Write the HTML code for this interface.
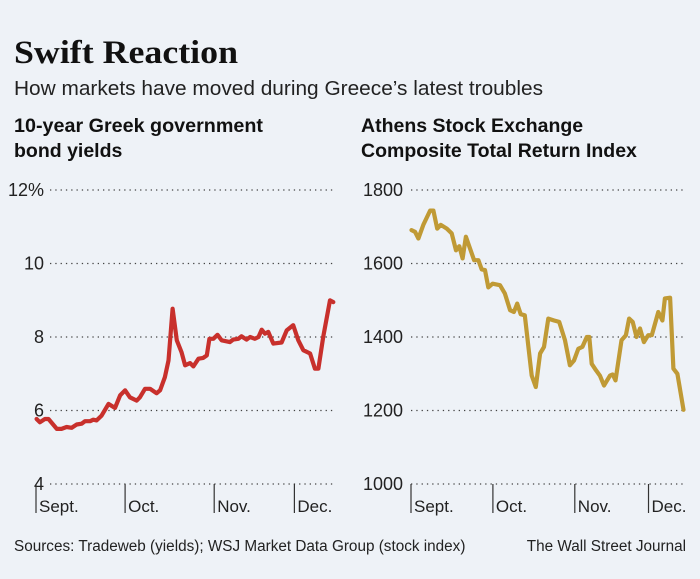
<!DOCTYPE html>
<html><head><meta charset="utf-8"><style>
body{margin:0;background:#eef2f7;}
svg{display:block;font-family:"Liberation Sans",sans-serif;}
</style></head><body>
<svg width="700" height="579" viewBox="0 0 700 579">
<rect width="700" height="579" fill="#eef2f7"/>
<text x="14" y="63" font-family="Liberation Serif,serif" font-weight="bold" font-size="33" textLength="224" lengthAdjust="spacingAndGlyphs" fill="#111">Swift Reaction</text>
<text x="14" y="95" font-size="20.5" textLength="529" lengthAdjust="spacingAndGlyphs" fill="#222">How markets have moved during Greece’s latest troubles</text>
<text x="14" y="132" font-size="19.5" textLength="249" lengthAdjust="spacingAndGlyphs" font-weight="bold" fill="#111">10-year Greek government</text>
<text x="14" y="157" font-size="19.5" font-weight="bold" fill="#111">bond yields</text>
<text x="361" y="132" font-size="19.5" font-weight="bold" fill="#111">Athens Stock Exchange</text>
<text x="361" y="157" font-size="19.5" font-weight="bold" fill="#111">Composite Total Return Index</text>
<g id="left"></g>
<g id="right"></g>
<text x="14" y="551" font-size="15.3" fill="#222">Sources: Tradeweb (yields); WSJ Market Data Group (stock index)</text>
<text x="686" y="551" font-size="15.3" fill="#222" text-anchor="end">The Wall Street Journal</text>
</svg>
<script>
const monthLabels=["Sept.","Oct.","Nov.","Dec."];
const monthDays=[0,30,60,87];
const leftTicks=[4,6,8,10,12];
const leftTickLabels=["4","6","8","10","12%"];
const leftDays=[0.2,1.3,3.0,4.2,7.0,8.6,10.3,12.0,13.7,15.4,16.5,18.2,19.3,20.4,22.1,24.4,26.6,28.3,30.0,31.6,33.9,35.0,36.7,38.4,40.6,41.8,43.4,44.6,46.0,47.4,49.0,50.2,51.9,53.0,54.7,56.3,57.5,58.4,59.7,61.1,62.5,65.3,66.4,68.1,69.2,70.9,72.1,73.7,74.9,76.0,77.1,78.2,79.9,82.7,84.4,86.6,88.3,90.0,92.3,93.9,95.1,96.7,99.0,100.1];
const leftValues=[5.77,5.68,5.77,5.77,5.5,5.5,5.55,5.53,5.62,5.64,5.71,5.71,5.75,5.73,5.86,6.18,6.07,6.41,6.55,6.36,6.27,6.36,6.59,6.59,6.47,6.55,6.91,7.36,8.77,7.91,7.59,7.23,7.29,7.2,7.41,7.43,7.5,7.95,7.95,8.06,7.91,7.86,7.93,7.95,8.02,7.93,8.0,7.95,8.0,8.2,8.09,8.14,7.82,7.85,8.18,8.32,7.91,7.64,7.55,7.14,7.14,8.0,9.0,8.95];
const rightTicks=[1000,1200,1400,1600,1800];
const rightTickLabels=["1000","1200","1400","1600","1800"];
const rightDays=[0.2,1.5,2.7,4.5,7.0,8.2,9.6,10.9,13.1,14.9,16.5,17.7,18.9,20.1,21.6,23.1,24.7,25.9,27.1,28.3,29.9,32.6,34.4,36.3,37.7,38.9,40.2,41.7,44.2,45.7,47.3,48.7,50.3,52.4,54.3,56.4,58.2,59.7,61.3,62.8,64.4,65.3,66.2,67.8,69.2,70.7,72.9,73.9,74.9,77.1,78.7,79.9,81.2,82.6,83.9,85.3,86.9,88.2,90.6,92.1,93.0,94.9,96.1,97.6,99.8];
const rightValues=[1691,1686,1668,1705,1744,1744,1695,1705,1695,1682,1636,1647,1614,1673,1641,1609,1609,1584,1582,1535,1545,1541,1518,1473,1468,1491,1462,1459,1295,1264,1355,1373,1450,1445,1441,1391,1323,1336,1368,1373,1400,1400,1327,1309,1295,1268,1295,1298,1282,1391,1405,1450,1441,1400,1423,1386,1405,1405,1468,1445,1505,1507,1314,1300,1202];
const NS="http://www.w3.org/2000/svg";
function mk(p,t,a){const e=document.createElementNS(NS,t);for(const k in a)e.setAttribute(k,a[k]);p.appendChild(e);return e;}
function draw(g,o){
  const xs=d=>o.x0+d*o.pxDay;
  const ys=v=>o.yBot-(v-o.vmin)/(o.vmax-o.vmin)*(o.yBot-o.yTop);
  o.ticks.forEach((t,i)=>{
    const y=ys(t);
    const l=mk(g,"line",{x1:o.gx0,x2:o.gx1,y1:y,y2:y,stroke:"#444","stroke-width":1.3,"stroke-dasharray":"1.3 4"});
    
    
    const tx=mk(g,"text",{x:o.lx,y:y+6,"text-anchor":"end","font-size":18,fill:"#222"});
    tx.textContent=o.labels[i];
    
    
  });
  monthDays.forEach((d,i)=>{
    const x=xs(d);
    const l=mk(g,"line",{x1:x,x2:x,y1:ys(o.vmin),y2:ys(o.vmin)+29,stroke:"#333","stroke-width":1.2});
    
    
    const tx=mk(g,"text",{x:x+3,y:ys(o.vmin)+28,"font-size":17,fill:"#222"});
    tx.textContent=monthLabels[i];
    
    
  });
  const pts=o.days.map((d,i)=>xs(d).toFixed(1)+","+ys(o.vals[i]).toFixed(1)).join(" ");
  const pl=mk(g,"polyline",{points:pts,fill:"none",stroke:o.color,"stroke-width":4.2,"stroke-linejoin":"round","stroke-linecap":"round"});
  
  
}
draw(document.getElementById("left"),{x0:36,pxDay:2.97,gx0:50,gx1:334,lx:44,yTop:190,yBot:484,vmin:4,vmax:12,ticks:leftTicks,labels:leftTickLabels,days:leftDays,vals:leftValues,color:"#c8302c",name:"bond-yield-line"});
draw(document.getElementById("right"),{x0:411,pxDay:2.73,gx0:411,gx1:683,lx:403,yTop:190,yBot:484,vmin:1000,vmax:1800,ticks:rightTicks,labels:rightTickLabels,days:rightDays,vals:rightValues,color:"#c09a35",name:"stock-index-line"});
</script>
</body></html>
